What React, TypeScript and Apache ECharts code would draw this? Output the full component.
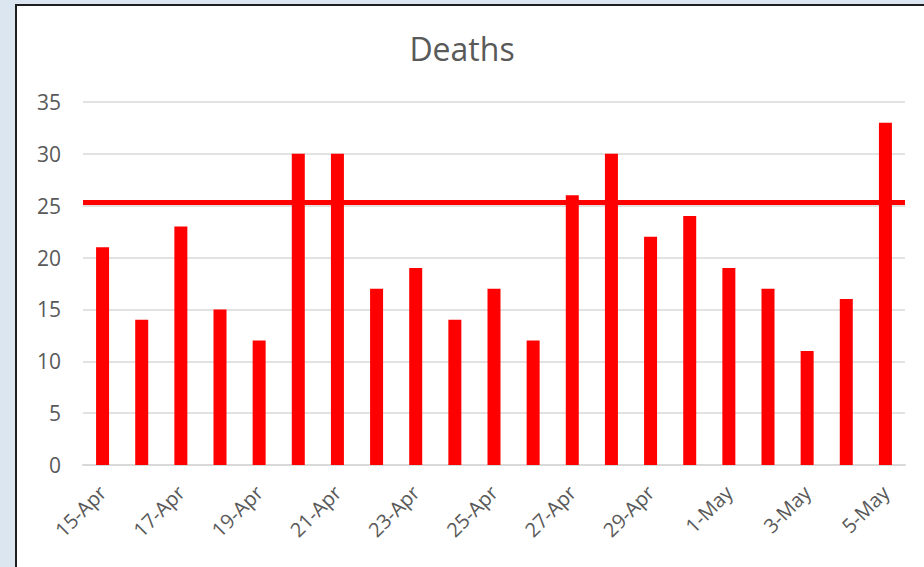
import React, { useEffect, useRef } from "react";
import * as echarts from "echarts";

const categories = [
  "15-Apr", "16-Apr", "17-Apr", "18-Apr", "19-Apr", "20-Apr", "21-Apr",
  "22-Apr", "23-Apr", "24-Apr", "25-Apr", "26-Apr", "27-Apr", "28-Apr",
  "29-Apr", "30-Apr", "1-May", "2-May", "3-May", "4-May", "5-May",
];
const deaths = [21, 14, 23, 15, 12, 30, 30, 17, 19, 14, 17, 12, 26, 30, 22, 24, 19, 17, 11, 16, 33];
const referenceLevel = 25.3;
const yTicks = { min: 0, max: 35, interval: 5 };

const FONT = "'Open Sans', 'Noto Sans', sans-serif";

export default function App() {
  const ref = useRef<HTMLDivElement>(null);
  useEffect(() => {
    if (!ref.current) return;
    const chart = echarts.init(ref.current, undefined, { renderer: "svg" });
    chart.setOption({
      animation: false,
      backgroundColor: "transparent",
      title: {
        text: "Deaths",
        left: "center",
        top: 27,
        textStyle: { fontFamily: FONT, fontSize: 32, fontWeight: "normal", color: "#595959" },
      },
      grid: { left: 83, right: 19, top: 102, bottom: 102, containLabel: false },
      xAxis: {
        type: "category",
        data: categories,
        axisTick: { show: false },
        axisLine: { lineStyle: { color: "#d9d9d9", width: 2 } },
        axisLabel: {
          interval: 1,
          rotate: 45,
          margin: 24,
          fontFamily: FONT,
          fontSize: 20,
          color: "#595959",
        },
      },
      yAxis: {
        type: "value",
        min: yTicks.min,
        max: yTicks.max,
        interval: yTicks.interval,
        axisLine: { show: false },
        axisTick: { show: false },
        splitLine: { lineStyle: { color: "#d9d9d9", width: 1.5 } },
        axisLabel: { margin: 22, fontFamily: FONT, fontSize: 21, color: "#595959" },
      },
      series: [
        {
          type: "bar",
          data: deaths,
          barWidth: 13,
          itemStyle: { color: "#ff0000" },
          markLine: {
            silent: true,
            symbol: "none",
            label: { show: false },
            lineStyle: { color: "#ff0000", width: 5, type: "solid" },
            data: [{ yAxis: referenceLevel }],
          },
        },
      ],
    });
    return () => chart.dispose();
  }, []);

  return (
    <div
      style={{
        position: "fixed",
        left: 0,
        top: 0,
        width: 924,
        height: 567,
        background: "#dce6f1",
        overflow: "hidden",
      }}
    >
      <div
        style={{
          position: "absolute",
          left: 15,
          top: 4,
          width: 940,
          height: 600,
          background: "#ffffff",
          border: "2px solid #1f1f1f",
          boxSizing: "border-box",
        }}
      />
      <div ref={ref} style={{ position: "absolute", left: 0, top: 0, width: 924, height: 567 }} />
    </div>
  );
}
